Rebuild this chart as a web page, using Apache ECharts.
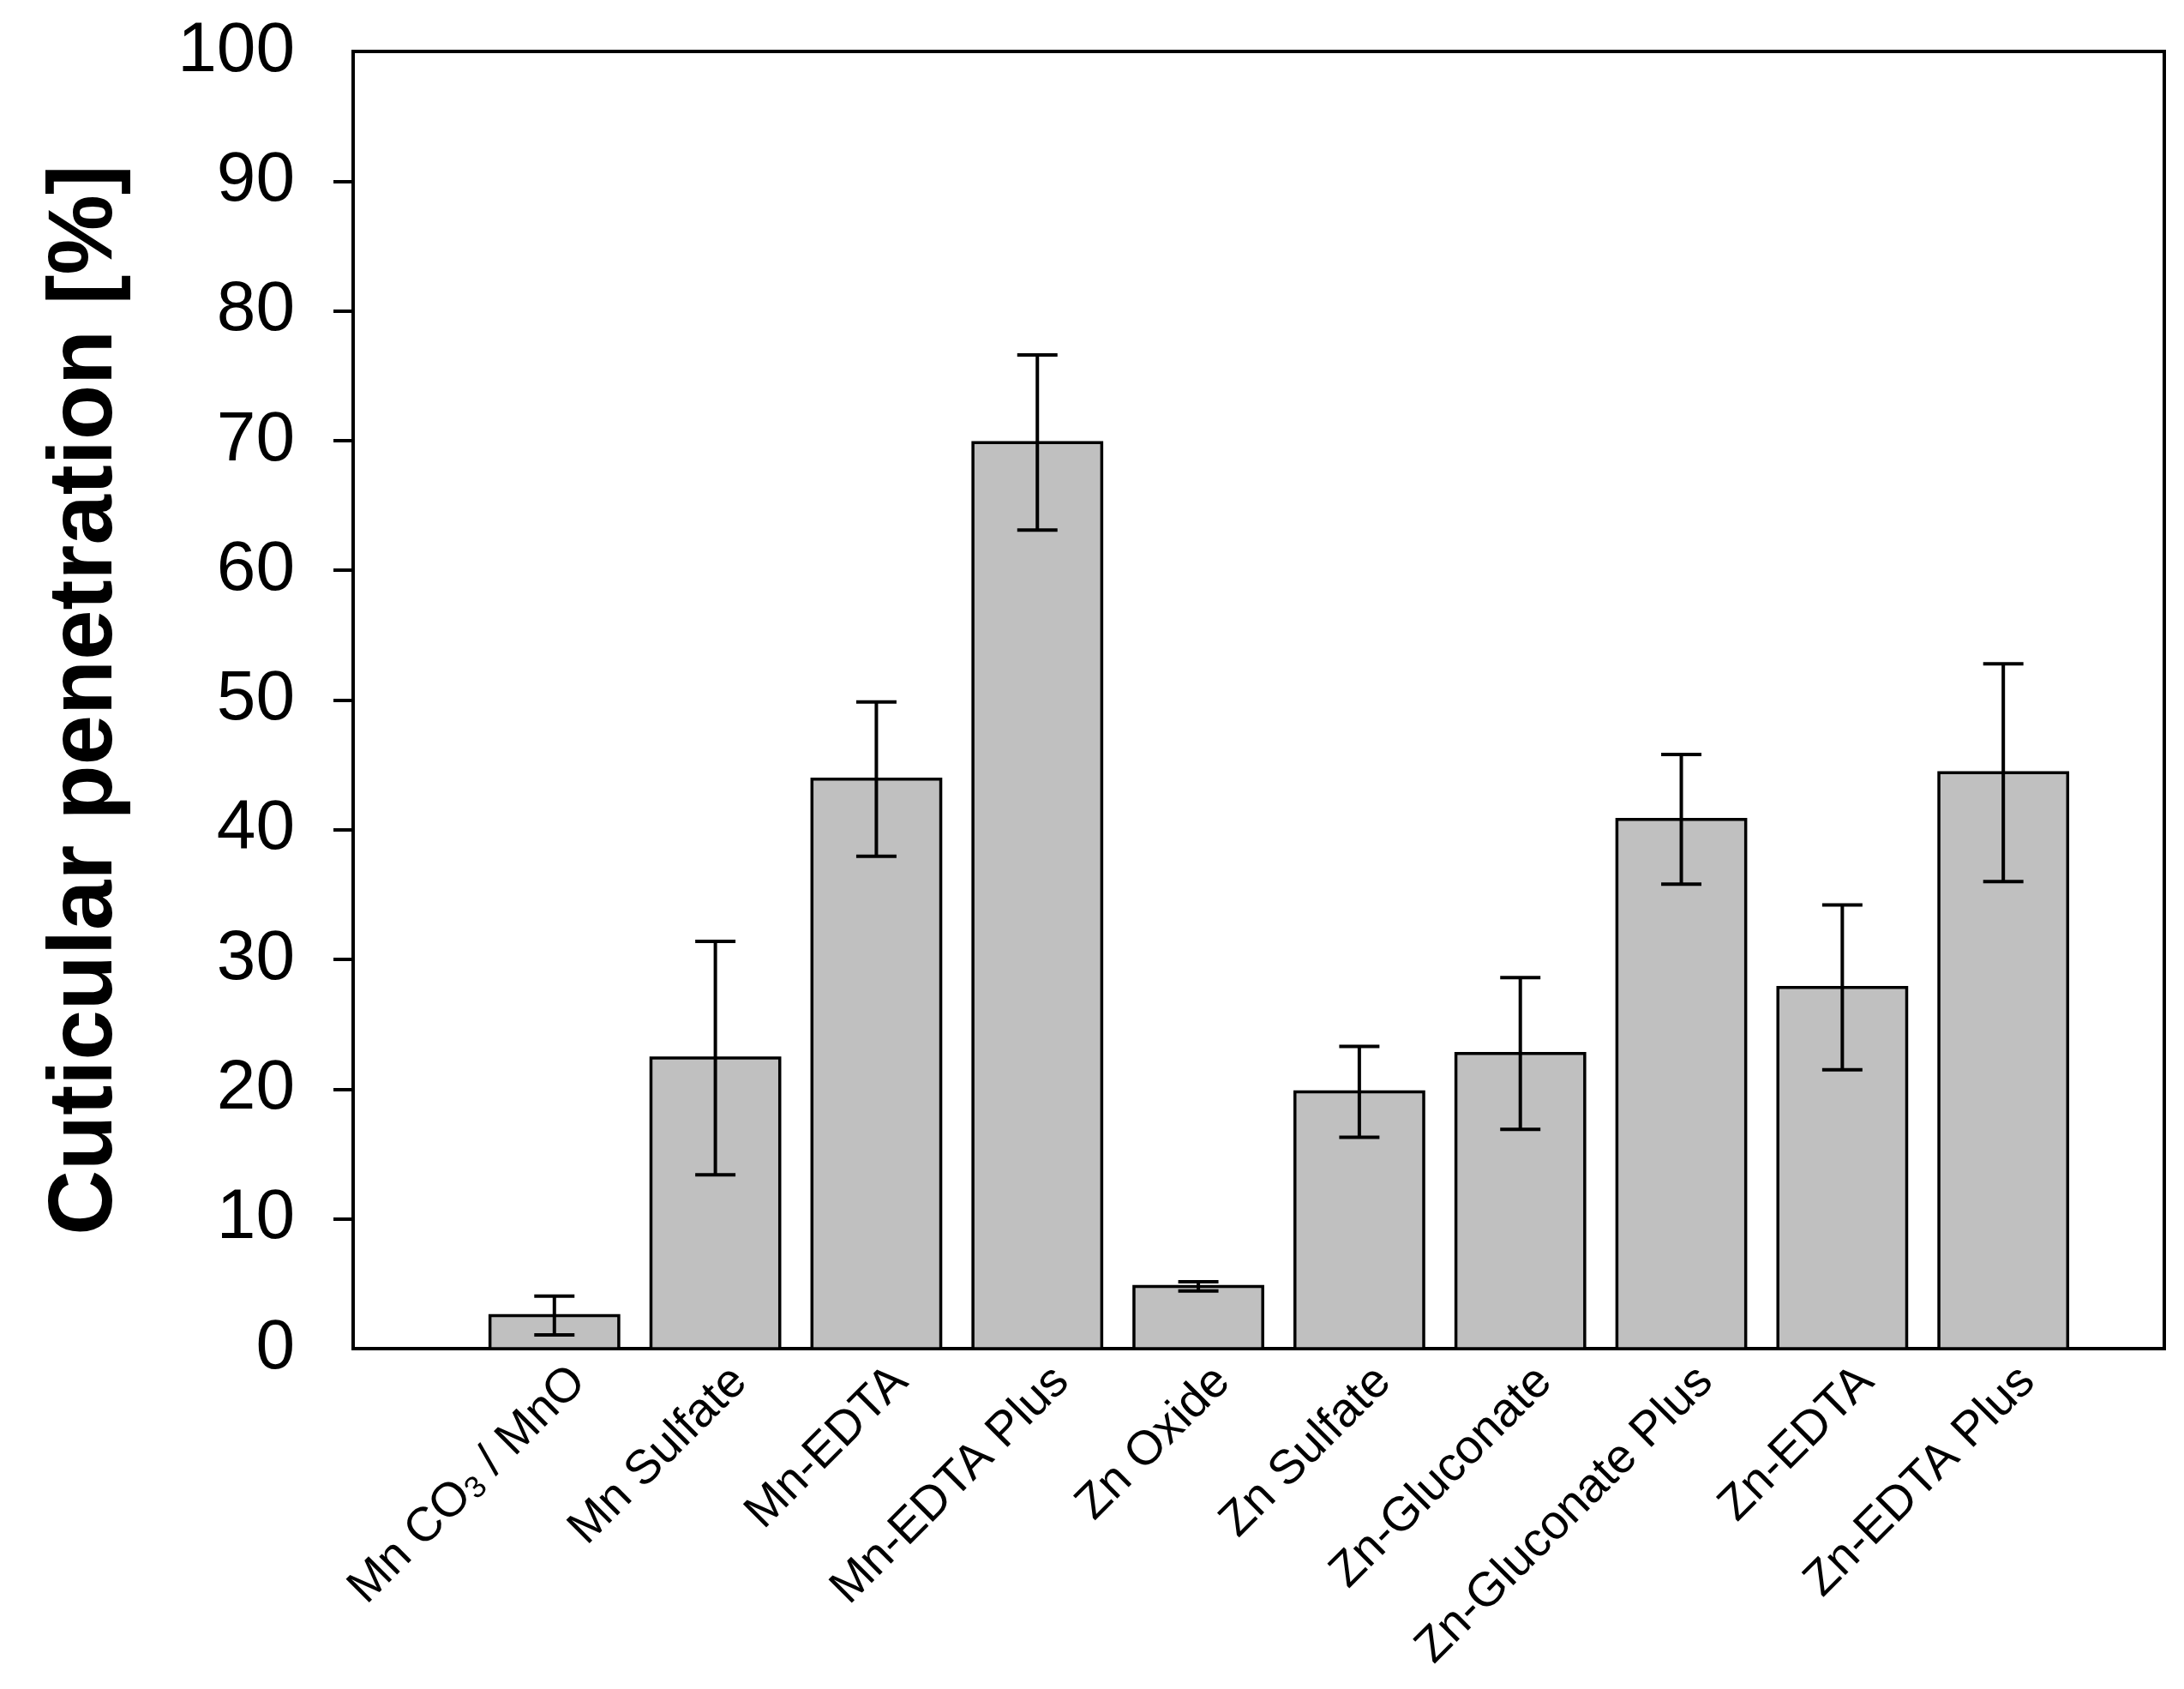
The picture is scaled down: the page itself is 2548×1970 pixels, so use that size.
<!DOCTYPE html>
<html>
<head>
<meta charset="utf-8">
<script src="https://cdn.jsdelivr.net/npm/echarts@6/dist/echarts.min.js"></script>
<style>
html,body{margin:0;padding:0;background:#fff;}
#chart{width:2548px;height:1970px;}
</style>
</head>
<body>
<div id="chart"></div>
<script>
const categories = ['Mn CO{sub|3} / MnO', 'Mn Sulfate', 'Mn-EDTA', 'Mn-EDTA Plus', 'Zn Oxide',
  'Zn Sulfate', 'Zn-Gluconate', 'Zn-Gluconate Plus', 'Zn-EDTA', 'Zn-EDTA Plus'];
const means = [2.55, 22.4, 43.9, 69.85, 4.8, 19.8, 22.75, 40.8, 27.85, 44.4];
const errors = [1.5, 9.0, 5.95, 6.75, 0.35, 3.5, 5.85, 5.0, 6.35, 8.4];
const yLabels = [0, 10, 20, 30, 40, 50, 60, 70, 80, 90, 100];
const yTickMarks = [10, 20, 30, 40, 50, 60, 70, 80, 90];

const chart = echarts.init(document.getElementById('chart'), null, {renderer: 'canvas'});
const barData = means.map((m, i) => [i + 1, m]);
const errData = means.map((m, i) => [i + 1, m - errors[i], m + errors[i]]);
const LABEL_SHIFT = 0.15;

const option = {
  animation: false,
  backgroundColor: '#fff',
  grid: {left: 412, right: 23, top: 60, bottom: 397, show: true, borderColor: '#000', borderWidth: 4, backgroundColor: 'transparent'},
  xAxis: {
    type: 'value', min: -0.25, max: 11, interval: 0.05,
    splitLine: {show: false}, axisTick: {show: false},
    axisLine: {show: false},
    axisLabel: {
      rotate: 45, margin: 30, fontSize: 56, color: '#000', fontFamily: 'Liberation Sans',
      showMinLabel: true, showMaxLabel: true,
      formatter: function (v) {
        const u = v - LABEL_SHIFT;
        const i = Math.round(u);
        if (Math.abs(u - i) < 1e-4 && i >= 1 && i <= categories.length) return categories[i - 1];
        return '';
      },
      rich: {sub: {fontSize: 36, verticalAlign: 'bottom', fontFamily: 'Liberation Sans', color: '#000'}}
    }
  },
  yAxis: {
    type: 'value', min: 0, max: 100, interval: 10,
    name: 'Cuticular penetration [%]', nameLocation: 'middle', nameGap: 258,
    nameTextStyle: {fontSize: 105, fontWeight: 'bold', color: '#000', fontFamily: 'Liberation Sans'},
    splitLine: {show: false},
    axisLine: {show: true, onZero: false, lineStyle: {color: '#000', width: 4}},
    axisTick: {show: true, inside: false, length: 23, customValues: yTickMarks, lineStyle: {color: '#000', width: 4}},
    axisLabel: {
      margin: 68, fontSize: 82, color: '#000', fontFamily: 'Liberation Sans',
      customValues: yLabels
    }
  },
  series: [
    {
      type: 'custom', data: barData, z: 2,
      renderItem: function (params, api) {
        const x = api.value(0), y = api.value(1);
        const base = api.coord([x, 0]);
        const top = api.coord([x, y]);
        const w = api.size([0.8, 0])[0];
        return {
          type: 'rect',
          shape: {x: base[0] - w / 2, y: top[1], width: w, height: base[1] - top[1]},
          style: {fill: '#c0c0c0', stroke: '#000', lineWidth: 3.5}
        };
      }
    },
    {
      type: 'custom', data: errData, z: 3,
      renderItem: function (params, api) {
        const x = api.value(0);
        const lo = api.coord([x, api.value(1)]);
        const hi = api.coord([x, api.value(2)]);
        const cw = api.size([0.25, 0])[0] / 2;
        const st = {stroke: '#000', lineWidth: 4};
        return {
          type: 'group',
          children: [
            {type: 'line', shape: {x1: lo[0], y1: lo[1], x2: hi[0], y2: hi[1]}, style: st},
            {type: 'line', shape: {x1: hi[0] - cw, y1: hi[1], x2: hi[0] + cw, y2: hi[1]}, style: st},
            {type: 'line', shape: {x1: lo[0] - cw, y1: lo[1], x2: lo[0] + cw, y2: lo[1]}, style: st}
          ]
        };
      }
    }
  ]
};
chart.setOption(option);
</script>
</body>
</html>
